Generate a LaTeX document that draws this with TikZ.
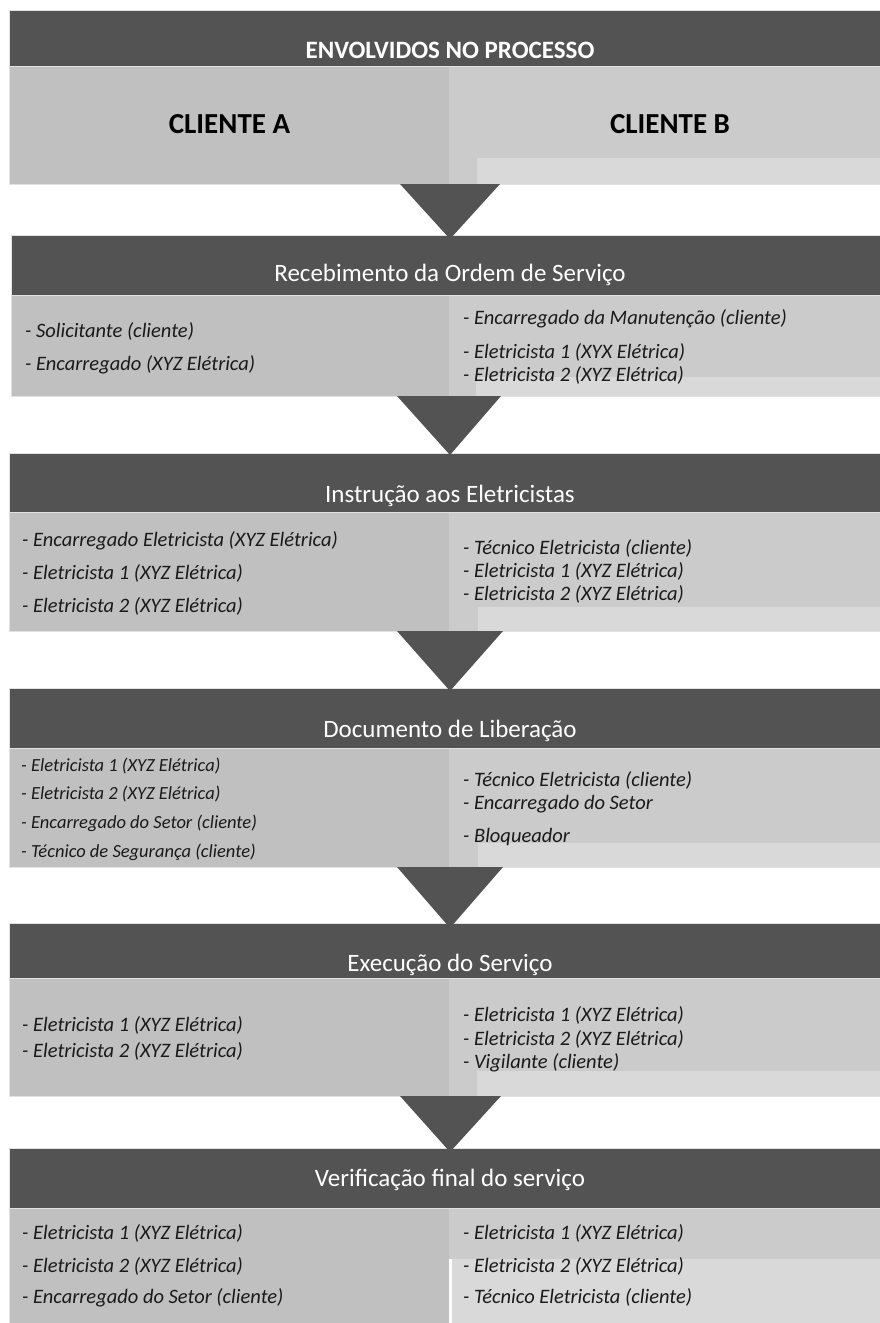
\documentclass[tikz,border=0pt]{standalone}
\usepackage{fontspec}
\setmainfont{Carlito}
\definecolor{darkband}{HTML}{535353}
\definecolor{leftcol}{HTML}{C0C0C0}
\definecolor{rightcol}{HTML}{CBCBCB}
\definecolor{stripcol}{HTML}{D9D9D9}
\definecolor{edgecol}{HTML}{E2E2E2}
\definecolor{itemcol}{HTML}{1A1A1A}
\tikzset{
  band/.style={fill=darkband, draw=edgecol, line width=0.8pt},
  lcol/.style={fill=leftcol},
  rcol/.style={fill=rightcol},
  strip/.style={fill=stripcol},
  arrowtri/.style={fill=darkband},
  ttl/.style={text=white, font=\fontsize{25}{30}\selectfont, anchor=base, inner sep=0pt},
  hdr/.style={text=white, font=\fontsize{25}{30}\selectfont\bfseries, anchor=base, inner sep=0pt},
  cli/.style={text=black, font=\fontsize{29}{34}\selectfont\bfseries, anchor=base, inner sep=0pt},
  item/.style={text=itemcol, font=\fontsize{20.5}{24}\selectfont\itshape, anchor=base west, inner sep=0pt},
  itemsm/.style={text=itemcol, font=\fontsize{18.5}{22}\selectfont\itshape, anchor=base west, inner sep=0pt},
}
\begin{document}
\begin{tikzpicture}[x=1pt,y=-1pt]
\useasboundingbox (0,0) rectangle (880,1323);
\fill[white] (0,0) rectangle (880,1323);

% ---------- Block 0 ----------
\fill[lcol] (9,66) rectangle (449,184);
\fill[rcol] (449,66) rectangle (880,184);
\fill[strip] (477,158) rectangle (880,184);
\draw[edgecol, line width=0.8pt] (9,10) rectangle (881,184);
\fill[band] (9,10) rectangle (881,66);
\node[hdr] (h0) at (450,58.3) {ENVOLVIDOS NO PROCESSO};
\node[cli] (ca) at (229.5,133.3) {CLIENTE A};
\node[cli] (cb) at (670,133.3) {CLIENTE B};

% ---------- Block 1 ----------
\fill[lcol] (11,295) rectangle (449,396);
\fill[rcol] (449,295) rectangle (880,396);
\fill[strip] (476,377) rectangle (880,396);
\draw[edgecol, line width=0.8pt] (11,235) rectangle (881,396);
\fill[band] (11,235) rectangle (881,295);
\node[ttl] (t1) at (450,281.7) {Recebimento da Ordem de Serviço};
\node[item] (a1a) at (25,337) {- Solicitante (cliente)};
\node[item] (a1b) at (25,370) {- Encarregado (XYZ Elétrica)};
\node[item] (b1a) at (463,324) {- Encarregado da Manutenção (cliente)};
\node[item] (b1b) at (463,358) {- Eletricista 1 (XYX Elétrica)};
\node[item] (b1c) at (463,381) {- Eletricista 2 (XYZ Elétrica)};

% ---------- Block 2 ----------
\fill[lcol] (9,512) rectangle (449,631);
\fill[rcol] (449,512) rectangle (880,631);
\fill[strip] (478,607) rectangle (880,631);
\draw[edgecol, line width=0.8pt] (9,453) rectangle (881,631);
\fill[band] (9,453) rectangle (881,512);
\node[ttl] (t2) at (450,502) {Instrução aos Eletricistas};
\node[item] (a2a) at (22,546) {- Encarregado Eletricista (XYZ Elétrica)};
\node[item] (a2b) at (22,579) {- Eletricista 1 (XYZ Elétrica)};
\node[item] (a2c) at (22,612) {- Eletricista 2 (XYZ Elétrica)};
\node[item] (b2a) at (463,554) {- Técnico Eletricista (cliente)};
\node[item] (b2b) at (463,577) {- Eletricista 1 (XYZ Elétrica)};
\node[item] (b2c) at (463,600) {- Eletricista 2 (XYZ Elétrica)};

% ---------- Block 3 ----------
\fill[lcol] (9,748) rectangle (449,867);
\fill[rcol] (449,748) rectangle (880,867);
\fill[strip] (478,843) rectangle (880,867);
\draw[edgecol, line width=0.8pt] (9,688) rectangle (881,867);
\fill[band] (9,688) rectangle (881,748);
\node[ttl] (t3) at (450,737.7) {Documento de Liberação};
\node[itemsm] (a3a) at (21,771) {- Eletricista 1 (XYZ Elétrica)};
\node[itemsm] (a3b) at (21,799) {- Eletricista 2 (XYZ Elétrica)};
\node[itemsm] (a3c) at (21,828) {- Encarregado do Setor (cliente)};
\node[itemsm] (a3d) at (21,857) {- Técnico de Segurança (cliente)};
\node[item] (b3a) at (463,786) {- Técnico Eletricista (cliente)};
\node[item] (b3b) at (463,809) {- Encarregado do Setor};
\node[item] (b3c) at (463,842) {- Bloqueador};

% ---------- Block 4 ----------
\fill[lcol] (9,978) rectangle (449,1096);
\fill[rcol] (449,978) rectangle (880,1096);
\fill[strip] (477,1071) rectangle (880,1096);
\draw[edgecol, line width=0.8pt] (9,923) rectangle (881,1096);
\fill[band] (9,923) rectangle (881,978);
\node[ttl] (t4) at (450,971) {Execução do Serviço};
\node[item] (a4a) at (22,1031) {- Eletricista 1 (XYZ Elétrica)};
\node[item] (a4b) at (22,1057) {- Eletricista 2 (XYZ Elétrica)};
\node[item] (b4a) at (463,1021.5) {- Eletricista 1 (XYZ Elétrica)};
\node[item] (b4b) at (463,1045) {- Eletricista 2 (XYZ Elétrica)};
\node[item] (b4c) at (463,1068) {- Vigilante (cliente)};

% ---------- Block 5 ----------
\fill[lcol] (9,1208) rectangle (449,1323);
\fill[rcol] (449,1208) rectangle (880,1259);
\fill[strip] (452,1259) rectangle (880,1323);
\draw[edgecol, line width=0.8pt] (9,1148) rectangle (881,1324);
\fill[band] (9,1148) rectangle (881,1208);
\node[ttl] (t5) at (450,1186) {Verificação final do serviço};
\node[item] (a5a) at (22,1239) {- Eletricista 1 (XYZ Elétrica)};
\node[item] (a5b) at (22,1272) {- Eletricista 2 (XYZ Elétrica)};
\node[item] (a5c) at (22,1303) {- Encarregado do Setor (cliente)};
\node[item] (b5a) at (463,1239) {- Eletricista 1 (XYZ Elétrica)};
\node[item] (b5b) at (463,1272) {- Eletricista 2 (XYZ Elétrica)};
\node[item] (b5c) at (463,1303) {- Técnico Eletricista (cliente)};

% ---------- Arrows (triangles) ----------
\coordinate (p0l) at (400,184); \coordinate (p0r) at (500,184); \coordinate (p0a) at (450,239);
\coordinate (p1l) at (397,396); \coordinate (p1r) at (501,396); \coordinate (p1a) at (450,455);
\coordinate (p2l) at (397,631); \coordinate (p2r) at (503,631); \coordinate (p2a) at (450,691);
\coordinate (p3l) at (397,867); \coordinate (p3r) at (503,867); \coordinate (p3a) at (450,928);
\coordinate (p4l) at (400,1096); \coordinate (p4r) at (501,1096); \coordinate (p4a) at (450,1152);
\fill[arrowtri] (p0l) -- (p0r) -- (p0a) -- cycle;
\fill[arrowtri] (p1l) -- (p1r) -- (p1a) -- cycle;
\fill[arrowtri] (p2l) -- (p2r) -- (p2a) -- cycle;
\fill[arrowtri] (p3l) -- (p3r) -- (p3a) -- cycle;
\fill[arrowtri] (p4l) -- (p4r) -- (p4a) -- cycle;
\end{tikzpicture}
\end{document}
